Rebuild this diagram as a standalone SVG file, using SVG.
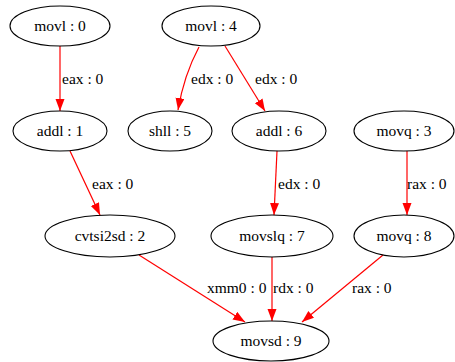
<svg xmlns="http://www.w3.org/2000/svg" width="455" height="362" viewBox="0 0 455 362">
<style>
.n ellipse{fill:none;stroke:#000;stroke-width:1.1}
text{font-family:"Liberation Serif","Times New Roman",serif;font-size:15.5px;fill:#000}
.n text{text-anchor:middle}
.e path{fill:none;stroke:#ff0000;stroke-width:1.2}
</style>
<defs>
<marker id="ah" markerUnits="userSpaceOnUse" markerWidth="13" markerHeight="10" refX="12" refY="4.5" orient="auto">
<path d="M0,0 L12,4.5 L0,9 z" fill="#ff0000"/>
</marker>
</defs>
<g id="edges" class="e">
<path d="M60,46 L60,111" marker-end="url(#ah)"/>
<text x="62" y="84">eax : 0</text>
<path d="M199,47 Q184,75 178,110" marker-end="url(#ah)"/>
<text x="191" y="84">edx : 0</text>
<path d="M225,46 L265,111" marker-end="url(#ah)"/>
<text x="255" y="84">edx : 0</text>
<path d="M70,151 L100,215" marker-end="url(#ah)"/>
<text x="92" y="189">eax : 0</text>
<path d="M277,151 L274,215" marker-end="url(#ah)"/>
<text x="278" y="189">edx : 0</text>
<path d="M407,151 L407,215" marker-end="url(#ah)"/>
<text x="407" y="189">rax : 0</text>
<path d="M139,255 L245,322" marker-end="url(#ah)"/>
<text x="207" y="293">xmm0 : 0</text>
<path d="M272,257 L272,321" marker-end="url(#ah)"/>
<text x="273" y="293">rdx : 0</text>
<path d="M383,255 L302,322" marker-end="url(#ah)"/>
<text x="352" y="293">rax : 0</text>
</g>
<g id="n0" class="n"><ellipse cx="60" cy="26" rx="50" ry="20"/><text x="60" y="31">movl : 0</text></g>
<g id="n4" class="n"><ellipse cx="211" cy="26" rx="49" ry="20"/><text x="211" y="31">movl : 4</text></g>
<g id="n1" class="n"><ellipse cx="60" cy="131" rx="47" ry="20"/><text x="60" y="136">addl : 1</text></g>
<g id="n5" class="n"><ellipse cx="170" cy="131" rx="42" ry="20"/><text x="170" y="136">shll : 5</text></g>
<g id="n6" class="n"><ellipse cx="279" cy="131" rx="47" ry="20"/><text x="279" y="136">addl : 6</text></g>
<g id="n3" class="n"><ellipse cx="404" cy="131" rx="50" ry="20"/><text x="404" y="136">movq : 3</text></g>
<g id="n2" class="n"><ellipse cx="110" cy="236" rx="65" ry="21"/><text x="110" y="241">cvtsi2sd : 2</text></g>
<g id="n7" class="n"><ellipse cx="272" cy="236" rx="61" ry="21"/><text x="272" y="241">movslq : 7</text></g>
<g id="n8" class="n"><ellipse cx="404" cy="236" rx="50" ry="21"/><text x="404" y="241">movq : 8</text></g>
<g id="n9" class="n"><ellipse cx="271" cy="341" rx="58" ry="20"/><text x="271" y="346">movsd : 9</text></g>
</svg>
